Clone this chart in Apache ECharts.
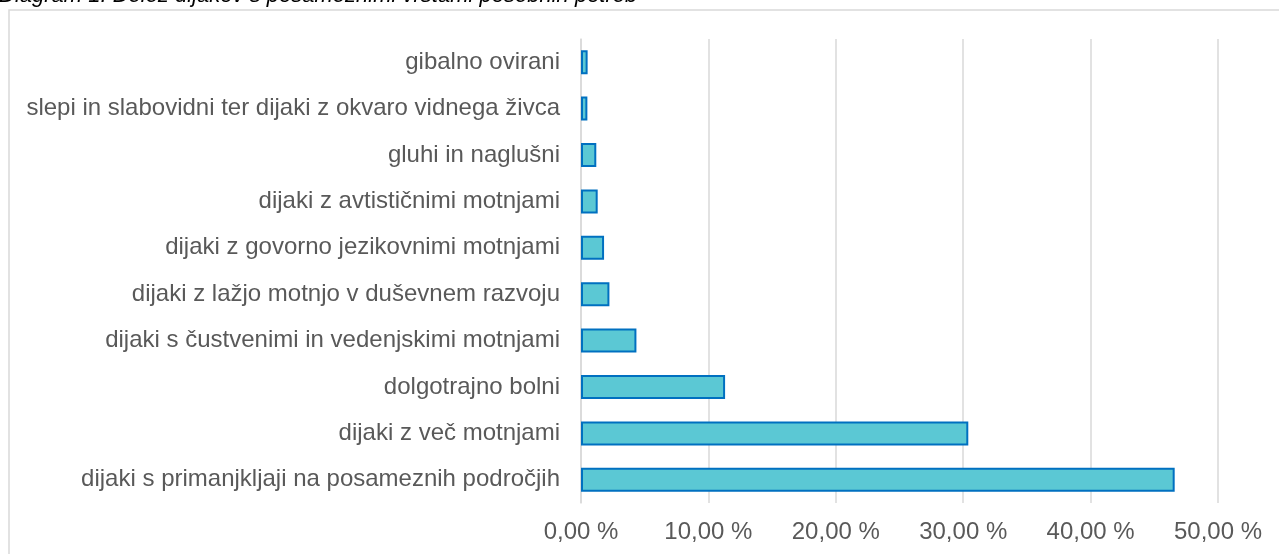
<!DOCTYPE html>
<html>
<head>
<meta charset="utf-8">
<script src="https://cdn.jsdelivr.net/npm/echarts@6/dist/echarts.min.js"></script>
<style>
html,body{margin:0;padding:0;background:#fff;}
#chart{width:1279px;height:554px;}
</style>
</head>
<body>
<div id="chart"></div>
<script>
// Categories listed top to bottom
var categories = [
  'gibalno ovirani',
  'slepi in slabovidni ter dijaki z okvaro vidnega živca',
  'gluhi in naglušni',
  'dijaki z avtističnimi motnjami',
  'dijaki z govorno jezikovnimi motnjami',
  'dijaki z lažjo motnjo v duševnem razvoju',
  'dijaki s čustvenimi in vedenjskimi motnjami',
  'dolgotrajno bolni',
  'dijaki z več motnjami',
  'dijaki s primanjkljaji na posameznih področjih'
];
var values = [0.52, 0.50, 1.20, 1.31, 1.81, 2.23, 4.35, 11.31, 30.40, 46.60];
var titleText = 'Diagram 1: Delež dijakov s posameznimi vrstami posebnih potreb';

var chart = echarts.init(document.getElementById('chart'), null, {renderer: 'canvas'});
var option = {
  animation: false,
  backgroundColor: '#ffffff',
  graphic: [
    {
      type: 'rect',
      shape: {x: 9, y: 10, width: 1290, height: 560},
      style: {fill: 'none', stroke: '#d9d9d9', lineWidth: 1.5},
      z: 0
    },
    {
      type: 'text',
      left: -1,
      top: -15,
      style: {
        text: titleText,
        fill: '#000000',
        font: 'italic 22px "Liberation Sans", Arial, sans-serif'
      }
    }
  ],
  grid: {left: 581, right: 61, top: 39, bottom: 51, containLabel: false},
  xAxis: {
    type: 'value',
    min: 0,
    max: 50,
    interval: 10,
    axisLine: {show: false},
    axisTick: {show: false},
    splitLine: {show: true, lineStyle: {color: '#d9d9d9', width: 1.5}},
    axisLabel: {
      color: '#595959',
      fontSize: 24,
      fontFamily: '"Liberation Sans", Arial, sans-serif',
      margin: 17,
      formatter: function (v) { return v.toFixed(2).replace('.', ',') + ' %'; }
    }
  },
  yAxis: {
    type: 'category',
    data: categories,
    inverse: true,
    axisLine: {show: true, lineStyle: {color: '#d9d9d9', width: 1.5}},
    axisTick: {show: false},
    axisLabel: {
      color: '#595959',
      fontSize: 24,
      fontFamily: '"Liberation Sans", Arial, sans-serif',
      margin: 21
    }
  },
  series: [{
    type: 'bar',
    data: values,
    barWidth: 24,
    itemStyle: {color: '#5bc8d4', borderColor: '#0070c0', borderWidth: 2}
  }]
};
chart.setOption(option);
</script>
</body>
</html>
